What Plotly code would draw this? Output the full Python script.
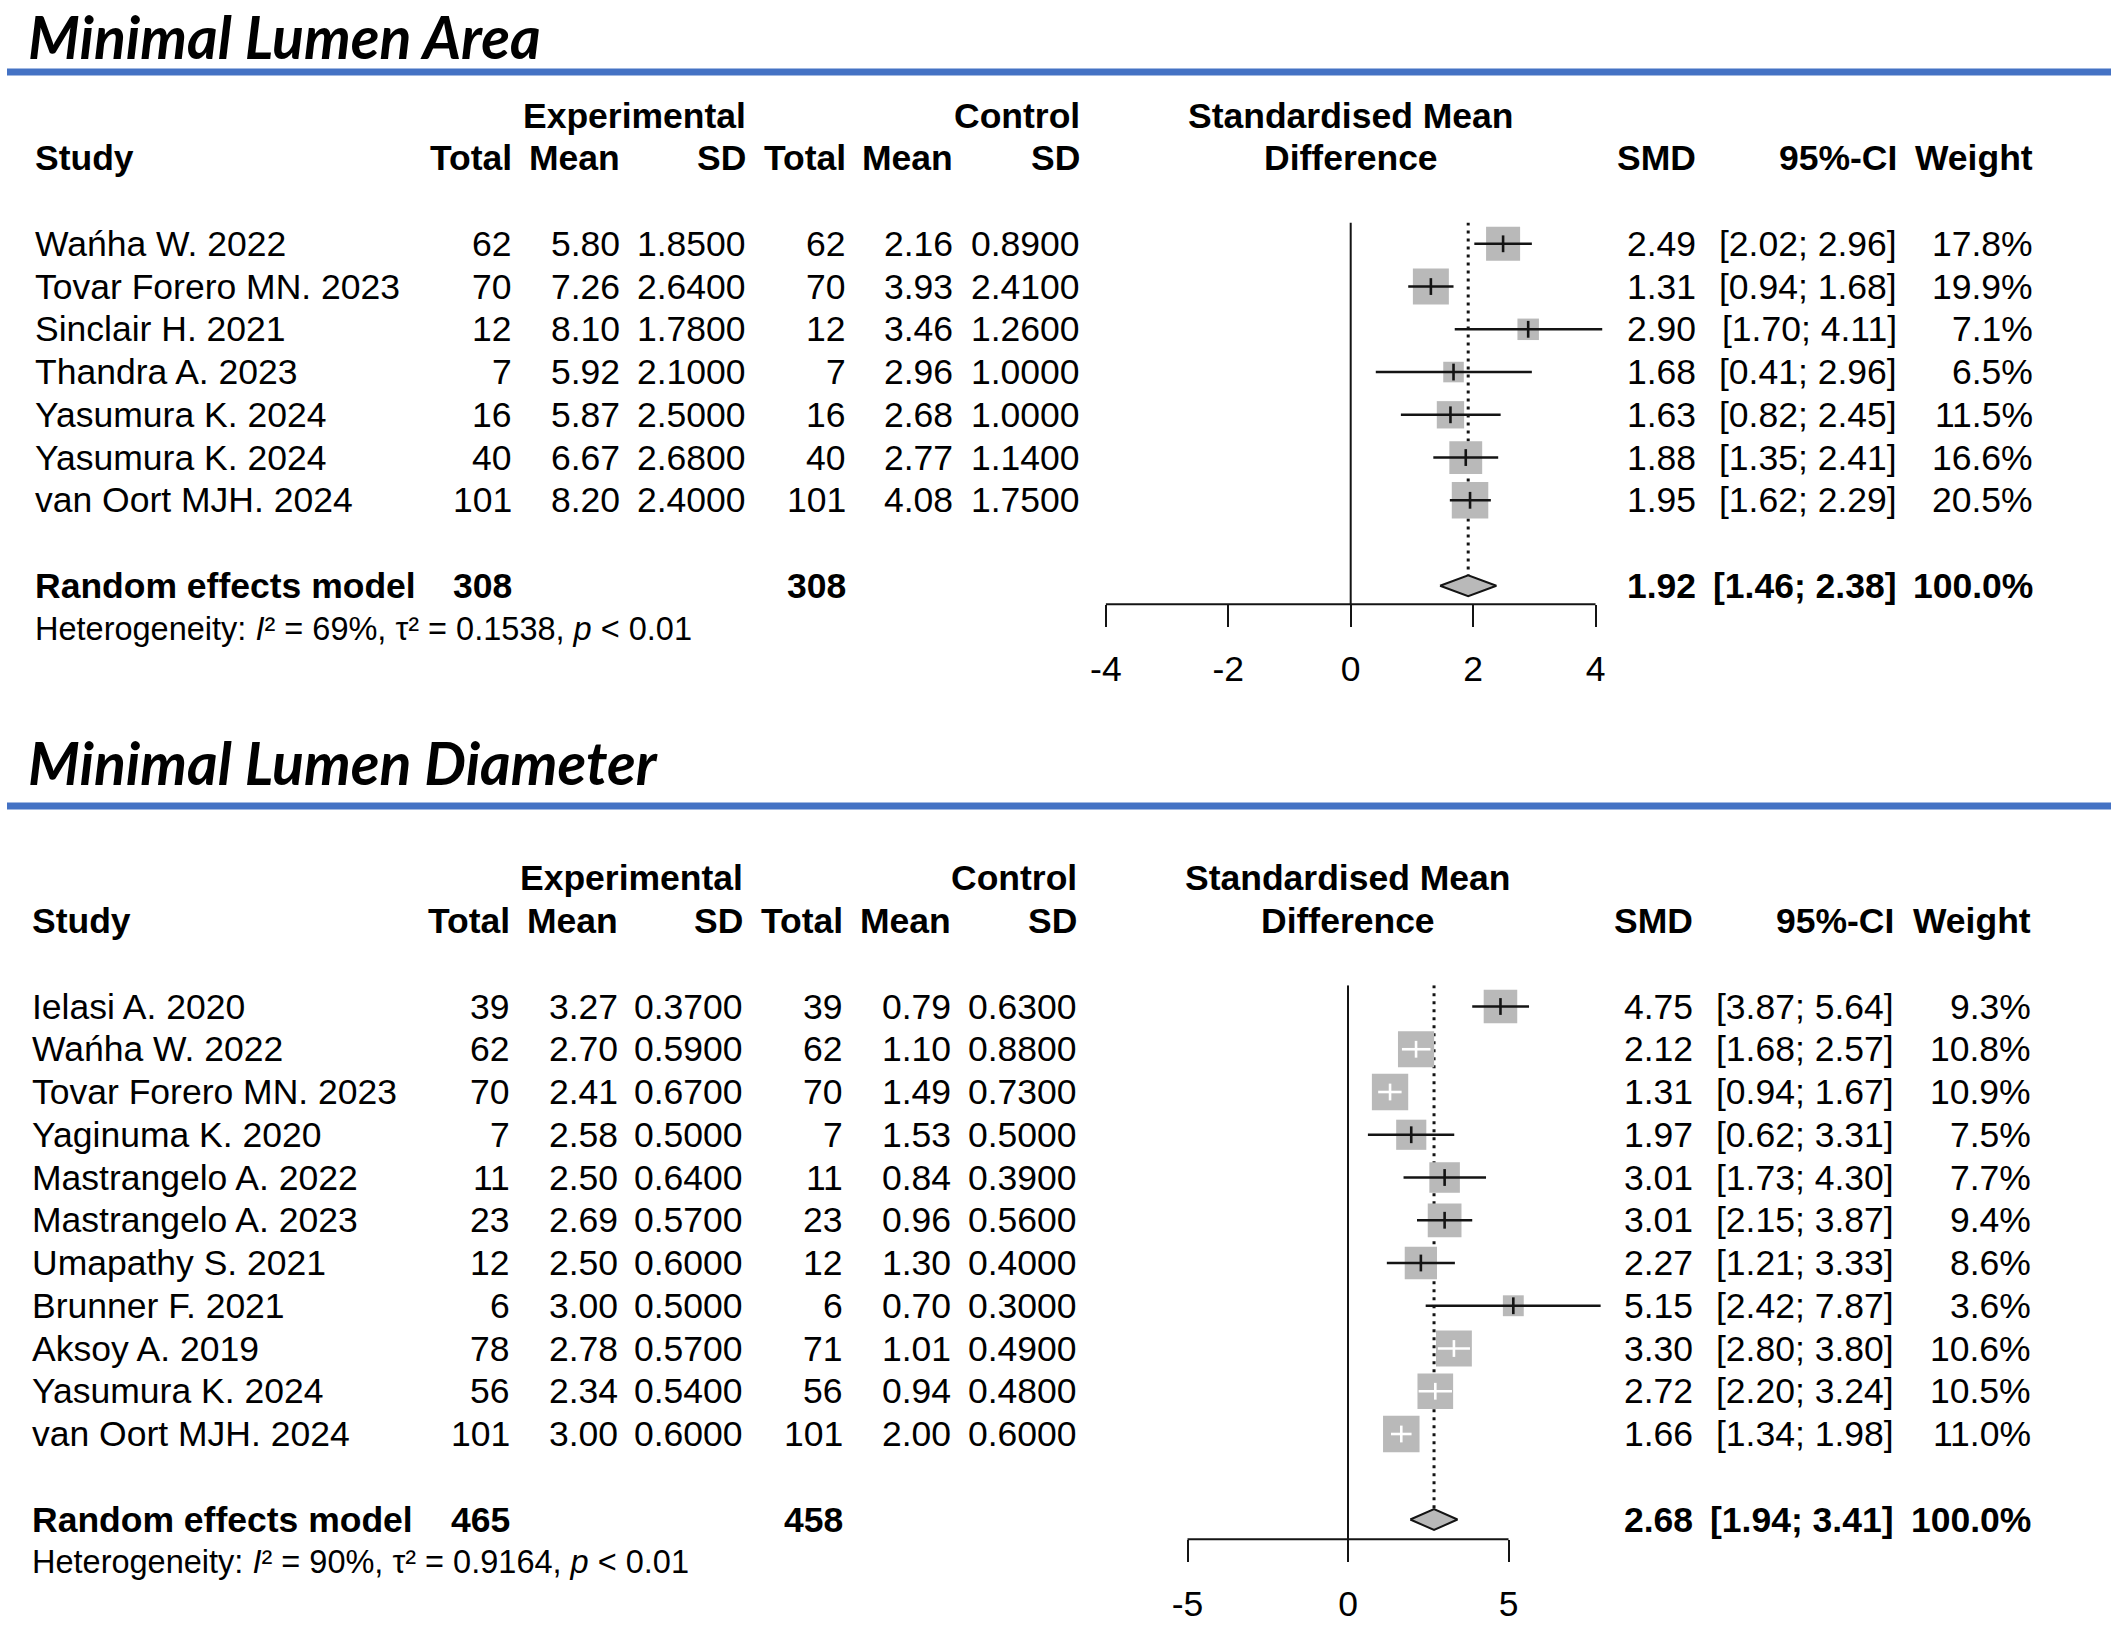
import math
import plotly.graph_objects as go

W, H = 2118, 1626

# ---------------- data: Minimal Lumen Area ----------------
mla_title = "Minimal Lumen Area"
mla_study = ["Wańha W. 2022", "Tovar Forero MN. 2023", "Sinclair H. 2021", "Thandra A. 2023",
             "Yasumura K. 2024", "Yasumura K. 2024", "van Oort MJH. 2024"]
mla_exp_n = [62, 70, 12, 7, 16, 40, 101]
mla_exp_mean = [5.80, 7.26, 8.10, 5.92, 5.87, 6.67, 8.20]
mla_exp_sd = [1.85, 2.64, 1.78, 2.10, 2.50, 2.68, 2.40]
mla_ctl_n = [62, 70, 12, 7, 16, 40, 101]
mla_ctl_mean = [2.16, 3.93, 3.46, 2.96, 2.68, 2.77, 4.08]
mla_ctl_sd = [0.89, 2.41, 1.26, 1.00, 1.00, 1.14, 1.75]
mla_smd = [2.49, 1.31, 2.90, 1.68, 1.63, 1.88, 1.95]
mla_lo = [2.02, 0.94, 1.70, 0.41, 0.82, 1.35, 1.62]
mla_hi = [2.96, 1.68, 4.11, 2.96, 2.45, 2.41, 2.29]
mla_weight = [17.8, 19.9, 7.1, 6.5, 11.5, 16.6, 20.5]
mla_re = [1.92, 1.46, 2.38]
mla_re_weight = 100.0
mla_totals = [308, 308]
mla_het = ["69%", "0.1538", "&lt; 0.01"]
mla_ticks = [-4, -2, 0, 2, 4]

# ---------------- data: Minimal Lumen Diameter ----------------
mld_title = "Minimal Lumen Diameter"
mld_study = ["Ielasi A. 2020", "Wańha W. 2022", "Tovar Forero MN. 2023", "Yaginuma K. 2020",
             "Mastrangelo A. 2022", "Mastrangelo A. 2023", "Umapathy S. 2021", "Brunner F. 2021",
             "Aksoy A. 2019", "Yasumura K. 2024", "van Oort MJH. 2024"]
mld_exp_n = [39, 62, 70, 7, 11, 23, 12, 6, 78, 56, 101]
mld_exp_mean = [3.27, 2.70, 2.41, 2.58, 2.50, 2.69, 2.50, 3.00, 2.78, 2.34, 3.00]
mld_exp_sd = [0.37, 0.59, 0.67, 0.50, 0.64, 0.57, 0.60, 0.50, 0.57, 0.54, 0.60]
mld_ctl_n = [39, 62, 70, 7, 11, 23, 12, 6, 71, 56, 101]
mld_ctl_mean = [0.79, 1.10, 1.49, 1.53, 0.84, 0.96, 1.30, 0.70, 1.01, 0.94, 2.00]
mld_ctl_sd = [0.63, 0.88, 0.73, 0.50, 0.39, 0.56, 0.40, 0.30, 0.49, 0.48, 0.60]
mld_smd = [4.75, 2.12, 1.31, 1.97, 3.01, 3.01, 2.27, 5.15, 3.30, 2.72, 1.66]
mld_lo = [3.87, 1.68, 0.94, 0.62, 1.73, 2.15, 1.21, 2.42, 2.80, 2.20, 1.34]
mld_hi = [5.64, 2.57, 1.67, 3.31, 4.30, 3.87, 3.33, 7.87, 3.80, 3.24, 1.98]
mld_weight = [9.3, 10.8, 10.9, 7.5, 7.7, 9.4, 8.6, 3.6, 10.6, 10.5, 11.0]
mld_re = [2.68, 1.94, 3.41]
mld_re_weight = 100.0
mld_totals = [465, 458]
mld_het = ["90%", "0.9164", "&lt; 0.01"]
mld_ticks = [-5, 0, 5]

# ---------------- styling ----------------
FONT = "Liberation Sans, Arial, sans-serif"
TITLE_FONT = "Lato, Open Sans, sans-serif"
FS = 35.5
FS_HET = 32.5
FS_TITLE = 59
BLUE = "#4472C4"
GREY = "#B9B9B9"
INK = "#141414"
MAX_SQ = 36.5

fig = go.Figure()
annotations = []
shapes = []


def px_x(px):
    return px / W


def px_y(py):
    return 1 - py / H


def add_panel(idx, title, study, exp_n, exp_mean, exp_sd, ctl_n, ctl_mean, ctl_sd,
              smd, lo, hi, weight, re, re_weight, totals, het, ticks, geo):
    xa = "x" if idx == 1 else "x%d" % idx
    ya = "y" if idx == 1 else "y%d" % idx
    xname = "xaxis" if idx == 1 else "xaxis%d" % idx
    yname = "yaxis" if idx == 1 else "yaxis%d" % idx

    row0, rowh = geo["row0"], geo["rowh"]
    top_row, axis_row = -0.5, geo["axis_row"]
    n = len(study)
    rows = list(range(n))
    re_row = n + 1
    het_row = n + 2
    c = geo["cols"]

    def row_px(r):
        return row0 + rowh * r

    # ---- axes
    x0, pxu = geo["zero_px"], geo["pxu"]
    xr = geo["xrange"]
    fig.layout[xname] = dict(
        domain=[px_x(x0 + pxu * xr[0]), px_x(x0 + pxu * xr[1])], range=xr,
        anchor=ya, showgrid=False, zeroline=False, showline=False,
        tickvals=ticks, ticktext=[str(t) for t in ticks], ticks="outside",
        ticklen=22, tickwidth=2, tickcolor=INK, ticklabelstandoff=geo["standoff"],
        tickfont=dict(family=FONT, size=FS, color="black"), fixedrange=True)
    fig.layout[yname] = dict(
        domain=[px_y(row_px(axis_row)), px_y(row_px(top_row))],
        range=[axis_row, top_row], anchor=xa, visible=False, fixedrange=True)

    # axis line spanning the tick range
    shapes.append(dict(type="line", xref=xa, yref=ya + " domain",
                       x0=min(ticks), x1=max(ticks), y0=0, y1=0,
                       line=dict(color=INK, width=2)))

    # zero reference line
    fig.add_trace(go.Scatter(x=[0, 0], y=[top_row, axis_row], mode="lines",
                             line=dict(color=INK, width=2), xaxis=xa, yaxis=ya,
                             hoverinfo="skip", showlegend=False))
    # dotted summary line
    dh = 10.5 / rowh
    fig.add_trace(go.Scatter(x=[re[0], re[0]], y=[top_row, re_row - dh], mode="lines",
                             line=dict(color=INK, width=3, dash="3px,5px"),
                             xaxis=xa, yaxis=ya, hoverinfo="skip", showlegend=False))

    # squares
    wmax = max(weight)
    sizes = [MAX_SQ * math.sqrt(w / wmax) for w in weight]
    fig.add_trace(go.Scatter(x=smd, y=rows, mode="markers",
                             marker=dict(symbol="square", size=sizes, color=GREY,
                                         opacity=1, line=dict(width=0)),
                             xaxis=xa, yaxis=ya, hoverinfo="skip", showlegend=False,
                             cliponaxis=False))

    # CI lines: white when the interval fits inside its square
    inside = [(h - l) * pxu < s for l, h, s in zip(lo, hi, sizes)]
    for flag, col in [(False, INK), (True, "white")]:
        xs, ys = [], []
        for l, h, r, f in zip(lo, hi, rows, inside):
            if f == flag:
                xs += [l, h, None]
                ys += [r, r, None]
        if xs:
            fig.add_trace(go.Scatter(x=xs, y=ys, mode="lines",
                                     line=dict(color=col, width=2.6),
                                     xaxis=xa, yaxis=ya, hoverinfo="skip",
                                     showlegend=False))
    fig.add_trace(go.Scatter(x=smd, y=rows, mode="markers",
                             marker=dict(symbol="line-ns", size=12,
                                         line=dict(width=2.6,
                                                   color=["white" if f else INK for f in inside])),
                             xaxis=xa, yaxis=ya, hoverinfo="skip", showlegend=False,
                             cliponaxis=False))

    # diamond
    fig.add_trace(go.Scatter(x=[re[1], re[0], re[2], re[0], re[1]],
                             y=[re_row, re_row - dh, re_row, re_row + dh, re_row],
                             mode="lines", fill="toself", fillcolor=GREY,
                             line=dict(color=INK, width=2),
                             xaxis=xa, yaxis=ya, hoverinfo="skip", showlegend=False))

    # ---- title and rule
    annotations.append(dict(text="<b><i>%s</i></b>" % title, xref="paper", yref="paper",
                            x=px_x(geo["title_x"]), y=px_y(geo["title_y"]),
                            xanchor="left", yanchor="middle", showarrow=False,
                            borderpad=0,
                            font=dict(family=TITLE_FONT, size=FS_TITLE, color="black")))
    shapes.append(dict(type="line", xref="paper", yref="paper",
                       x0=px_x(7), x1=px_x(2111), y0=px_y(geo["rule_y"]), y1=px_y(geo["rule_y"]),
                       line=dict(color=BLUE, width=7)))

    def txt(text, col, row, anchor="right", bold=False, size=FS):
        annotations.append(dict(text=("<b>%s</b>" % text) if bold else text,
                                xref="paper", yref="paper", x=px_x(col), y=px_y(row_px(row)),
                                xanchor=anchor, yanchor="middle", showarrow=False,
                                borderpad=0,
                                font=dict(family=FONT, size=size, color="black")))

    # headers
    txt("Experimental", c["exp_sd"], -3, bold=True)
    txt("Control", c["ctl_sd"], -3, bold=True)
    txt("Standardised Mean", c["forest"], -3, anchor="center", bold=True)
    txt("Study", c["study"], -2, anchor="left", bold=True)
    txt("Total", c["exp_n"], -2, bold=True)
    txt("Mean", c["exp_mean"], -2, bold=True)
    txt("SD", c["exp_sd"], -2, bold=True)
    txt("Total", c["ctl_n"], -2, bold=True)
    txt("Mean", c["ctl_mean"], -2, bold=True)
    txt("SD", c["ctl_sd"], -2, bold=True)
    txt("Difference", c["forest"], -2, anchor="center", bold=True)
    txt("SMD", c["smd"], -2, bold=True)
    txt("95%-CI", c["ci"], -2, bold=True)
    txt("Weight", c["weight"], -2, bold=True)

    # study rows
    for r in rows:
        txt(study[r], c["study"], r, anchor="left")
        txt("%d" % exp_n[r], c["exp_n"], r)
        txt("%.2f" % exp_mean[r], c["exp_mean"], r)
        txt("%.4f" % exp_sd[r], c["exp_sd"], r)
        txt("%d" % ctl_n[r], c["ctl_n"], r)
        txt("%.2f" % ctl_mean[r], c["ctl_mean"], r)
        txt("%.4f" % ctl_sd[r], c["ctl_sd"], r)
        txt("%.2f" % smd[r], c["smd"], r)
        txt("[%.2f; %.2f]" % (lo[r], hi[r]), c["ci"], r)
        txt("%.1f%%" % weight[r], c["weight"], r)

    # summary row
    txt("Random effects model", c["study"], re_row, anchor="left", bold=True)
    txt("%d" % totals[0], c["exp_n"], re_row, bold=True)
    txt("%d" % totals[1], c["ctl_n"], re_row, bold=True)
    txt("%.2f" % re[0], c["smd"], re_row, bold=True)
    txt("[%.2f; %.2f]" % (re[1], re[2]), c["ci"], re_row, bold=True)
    txt("%.1f%%" % re_weight, c["weight"], re_row, bold=True)
    txt("Heterogeneity: <i>I</i>² = %s, τ² = %s, <i>p</i> %s"
        % (het[0], het[1], het[2]), c["study"], het_row, anchor="left", size=FS_HET)


top_geo = dict(row0=243.8, rowh=42.75, axis_row=(604.3 - 243.8) / 42.75,
               zero_px=1350.7, pxu=61.2, xrange=[-5, 5], standoff=11,
               title_x=27, title_y=36, rule_y=72,
               cols=dict(study=34, exp_n=513, exp_mean=621, exp_sd=747, ctl_n=847,
                         ctl_mean=954, ctl_sd=1081, forest=1351, smd=1697, ci=1898,
                         weight=2034))
bot_geo = dict(row0=1006.5, rowh=42.75, axis_row=(1539.3 - 1006.5) / 42.75,
               zero_px=1348, pxu=32.1, xrange=[-6, 9], standoff=11,
               title_x=27, title_y=762, rule_y=806,
               cols=dict(study=31, exp_n=510.5, exp_mean=618.5, exp_sd=744, ctl_n=844,
                         ctl_mean=952, ctl_sd=1078, forest=1348, smd=1694, ci=1895,
                         weight=2032))

add_panel(1, mla_title, mla_study, mla_exp_n, mla_exp_mean, mla_exp_sd, mla_ctl_n,
          mla_ctl_mean, mla_ctl_sd, mla_smd, mla_lo, mla_hi, mla_weight, mla_re,
          mla_re_weight, mla_totals, mla_het, mla_ticks, top_geo)
add_panel(2, mld_title, mld_study, mld_exp_n, mld_exp_mean, mld_exp_sd, mld_ctl_n,
          mld_ctl_mean, mld_ctl_sd, mld_smd, mld_lo, mld_hi, mld_weight, mld_re,
          mld_re_weight, mld_totals, mld_het, mld_ticks, bot_geo)

fig.update_layout(width=W, height=H, margin=dict(l=0, r=0, t=0, b=0),
                  paper_bgcolor="white", plot_bgcolor="rgba(0,0,0,0)",
                  showlegend=False, annotations=annotations, shapes=shapes,
                  font=dict(family=FONT, color="black"))

fig.write_html("out.html", config={"displayModeBar": False},
               post_script="document.body.style.margin='0px';"
                           "document.body.style.overflow='hidden';")
